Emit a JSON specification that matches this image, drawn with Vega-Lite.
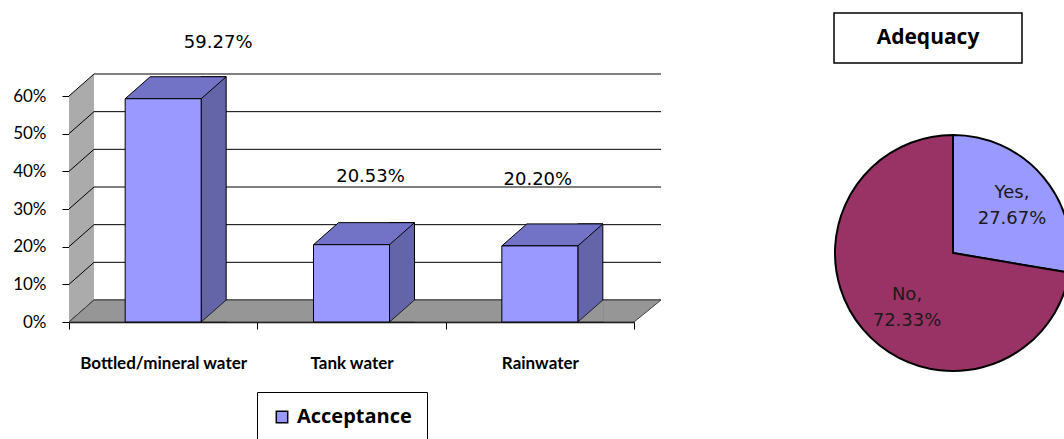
{
  "$schema": "https://vega.github.io/schema/vega-lite/v6.json",
  "padding": {"left": 12, "top": 10, "right": 0, "bottom": 0},
  "background": "white",
  "spacing": 168,
  "resolve": {"scale": {"color": "independent"}, "legend": {"color": "independent"}},
  "config": {
    "view": {"stroke": null},
    "axisY": {"tickCount": 7, "labelOverlap": false, "labelFont": "Lato", "labelFontSize": 17, "labelColor": "#000000", "labelPadding": 16, "tickSize": 7, "tickColor": "#000000", "domainColor": "#000000", "grid": false, "title": null}
  },
  "datasets": {
    "acceptance": [
      {"source": "Bottled/mineral water", "value": 0.5927},
      {"source": "Tank water", "value": 0.2053},
      {"source": "Rainwater", "value": 0.2020}
    ],
    "ticks": [
      {"tick": 0}, {"tick": 0.1}, {"tick": 0.2}, {"tick": 0.3}, {"tick": 0.4}, {"tick": 0.5}, {"tick": 0.6}
    ],
    "adequacy": [
      {"Adequacy": "Yes", "value": 27.67, "label": "Yes,\n27.67%"},
      {"Adequacy": "No", "value": 72.33, "label": "No,\n72.33%"}
    ]
  },
  "hconcat": [
    {
      "width": 565,
      "height": 226,
      "data": {"name": "acceptance"},
      "layer": [
        {
          "data": {"values": [{"k": 1}]},
          "mark": {"type": "point", "shape": "M-282.5,0 L-257.5,-22 L-257.5,-248 L-282.5,-226 Z", "size": 4, "filled": true, "fill": "#ababab", "strokeWidth": 0, "opacity": 1},
          "encoding": {
            "y": {
              "datum": 0, "type": "quantitative",
              "scale": {"domain": [0, 0.6], "nice": false},
              "axis": {"title": null, "values": [0, 0.1, 0.2, 0.3, 0.4, 0.5, 0.6], "tickCount": 7, "format": ".0%", "labelOverlap": false}
            }
          }
        },
        {
          "data": {"name": "ticks"},
          "mark": {"type": "point", "shape": "M-282.5,0 L-257.5,-22 L309.5,-22", "size": 4, "filled": false, "fill": null, "stroke": "#000000", "strokeWidth": 1, "opacity": 1},
          "encoding": {"y": {"field": "tick", "type": "quantitative", "axis": {"title": null, "values": [0, 0.1, 0.2, 0.3, 0.4, 0.5, 0.6], "tickCount": 7, "format": ".0%", "labelOverlap": false}}}
        },
        {
          "data": {"values": [{"k": 1}]},
          "mark": {"type": "point", "shape": "M-282.5,0 L-257.5,-22 L309.5,-22 L282.5,0 Z", "size": 4, "filled": true, "fill": "#969696", "stroke": "#404040", "strokeWidth": 1, "opacity": 1},
          "encoding": {"y": {"datum": 0, "type": "quantitative", "axis": {"title": null, "values": [0, 0.1, 0.2, 0.3, 0.4, 0.5, 0.6], "tickCount": 7, "format": ".0%", "labelOverlap": false}}}
        },
        {
          "mark": {"type": "bar", "width": 25, "xOffset": 50.5, "yOffset": -22, "fill": "#6464a8", "stroke": "#000000", "strokeWidth": 1},
          "encoding": {
            "x": {
              "field": "source", "type": "nominal", "sort": null,
              "scale": {"domain": ["Bottled/mineral water", "Tank water", "Rainwater"], "paddingInner": 0, "paddingOuter": 0},
              "axis": {
                "title": null, "labelAngle": 0, "tickBand": "extent", "labelAlign": "center", "labelBaseline": "top",
                "labelFont": "Lato", "labelFontSize": 17, "labelFontWeight": "bold", "labelColor": "#000000",
                "labelPadding": 26, "tickSize": 7, "tickColor": "#000000", "domainColor": "#000000", "domainWidth": 1.5
              }
            },
            "y": {"field": "value", "type": "quantitative", "axis": {"title": null, "values": [0, 0.1, 0.2, 0.3, 0.4, 0.5, 0.6], "tickCount": 7, "format": ".0%", "labelOverlap": false}},
            "y2": {"datum": 0}
          }
        },
        {
          "mark": {"type": "point", "shape": "M64,0 L38,0 L63,-22 L64,-22", "size": 4, "filled": true, "fill": "#969696", "stroke": "#202020", "strokeWidth": 1, "opacity": 1},
          "encoding": {
            "x": {"field": "source", "type": "nominal", "sort": null},
            "y": {"datum": 0, "type": "quantitative", "axis": {"title": null, "values": [0, 0.1, 0.2, 0.3, 0.4, 0.5, 0.6], "tickCount": 7, "format": ".0%", "labelOverlap": false}}
          }
        },
        {
          "mark": {"type": "point", "shape": "M-38,0 L38,0 L63,-22 L-13,-22 Z", "size": 4, "filled": true, "fill": "#7272c6", "stroke": "#000000", "strokeWidth": 1, "opacity": 1},
          "encoding": {
            "x": {"field": "source", "type": "nominal", "sort": null},
            "y": {"field": "value", "type": "quantitative", "axis": {"title": null, "values": [0, 0.1, 0.2, 0.3, 0.4, 0.5, 0.6], "tickCount": 7, "format": ".0%", "labelOverlap": false}}
          }
        },
        {
          "mark": {"type": "bar", "width": 76, "stroke": "#000000", "strokeWidth": 1},
          "encoding": {
            "x": {"field": "source", "type": "nominal", "sort": null},
            "y": {"field": "value", "type": "quantitative", "axis": {"title": null, "values": [0, 0.1, 0.2, 0.3, 0.4, 0.5, 0.6], "tickCount": 7, "format": ".0%", "labelOverlap": false}},
            "color": {
              "datum": "Acceptance",
              "scale": {"domain": ["Acceptance"], "range": ["#9999ff"]},
              "legend": {
                "title": null, "orient": "none", "legendX": 188, "legendY": 296,
                "strokeColor": "#000000", "fillColor": "#ffffff", "padding": 15,
                "symbolType": "square", "symbolSize": 130, "symbolStrokeColor": "#000000", "symbolStrokeWidth": 1.5,
                "labelFont": "Open Sans", "labelFontSize": 20, "labelFontWeight": "bold", "labelColor": "#000000", "labelOffset": 5
              }
            }
          }
        },
        {
          "transform": [{"filter": "datum.source == 'Bottled/mineral water'"}],
          "mark": {"type": "text", "font": "DejaVu Sans", "fontSize": 18, "color": "#000000", "dx": 55, "dy": -56},
          "encoding": {
            "x": {"field": "source", "type": "nominal", "sort": null},
            "y": {"field": "value", "type": "quantitative", "axis": {"title": null, "values": [0, 0.1, 0.2, 0.3, 0.4, 0.5, 0.6], "tickCount": 7, "format": ".0%", "labelOverlap": false}},
            "text": {"field": "value", "type": "quantitative", "format": ".2%"}
          }
        },
        {
          "transform": [{"filter": "datum.source == 'Tank water'"}],
          "mark": {"type": "text", "font": "DejaVu Sans", "fontSize": 18, "color": "#000000", "dx": 19, "dy": -68},
          "encoding": {
            "x": {"field": "source", "type": "nominal", "sort": null},
            "y": {"field": "value", "type": "quantitative", "axis": {"title": null, "values": [0, 0.1, 0.2, 0.3, 0.4, 0.5, 0.6], "tickCount": 7, "format": ".0%", "labelOverlap": false}},
            "text": {"field": "value", "type": "quantitative", "format": ".2%"}
          }
        },
        {
          "transform": [{"filter": "datum.source == 'Rainwater'"}],
          "mark": {"type": "text", "font": "DejaVu Sans", "fontSize": 18, "color": "#000000", "dx": -2, "dy": -66},
          "encoding": {
            "x": {"field": "source", "type": "nominal", "sort": null},
            "y": {"field": "value", "type": "quantitative", "axis": {"title": null, "values": [0, 0.1, 0.2, 0.3, 0.4, 0.5, 0.6], "tickCount": 7, "format": ".0%", "labelOverlap": false}},
            "text": {"field": "value", "type": "quantitative", "format": ".2%"}
          }
        }
      ]
    },
    {
      "width": 236,
      "height": 314,
      "data": {"name": "adequacy"},
      "layer": [
        {
          "mark": {"type": "arc", "outerRadius": 118, "stroke": "#000000", "strokeWidth": 2},
          "encoding": {
            "theta": {"field": "value", "type": "quantitative", "stack": true},
            "order": {"field": "Adequacy", "sort": "descending"},
            "color": {"field": "Adequacy", "type": "nominal", "scale": {"domain": ["Yes", "No"], "range": ["#9999ff", "#993366"]}, "legend": null}
          }
        },
        {
          "transform": [{"filter": "datum.Adequacy == 'Yes'"}],
          "mark": {"type": "text", "font": "DejaVu Sans", "fontSize": 18, "color": "#1a1a1a", "lineBreak": "\n", "lineHeight": 26, "baseline": "middle", "dx": 59, "dy": -60},
          "encoding": {"text": {"field": "label"}}
        },
        {
          "transform": [{"filter": "datum.Adequacy == 'No'"}],
          "mark": {"type": "text", "font": "DejaVu Sans", "fontSize": 18, "color": "#1a1a1a", "lineBreak": "\n", "lineHeight": 26, "baseline": "middle", "dx": -46, "dy": 42},
          "encoding": {"text": {"field": "label"}}
        },
        {
          "data": {"values": [{"t": "Adequacy"}]},
          "mark": {"type": "point", "shape": "M-119,-240 L69,-240 L69,-190 L-119,-190 Z", "size": 4, "filled": true, "fill": "#ffffff", "stroke": "#000000", "strokeWidth": 1.5, "opacity": 1},
          "encoding": {}
        },
        {
          "data": {"values": [{"t": "Adequacy"}]},
          "mark": {"type": "text", "font": "Open Sans", "fontSize": 21, "fontWeight": "bold", "color": "#000000", "dx": -25, "dy": -215},
          "encoding": {"text": {"field": "t"}}
        }
      ]
    }
  ]
}
